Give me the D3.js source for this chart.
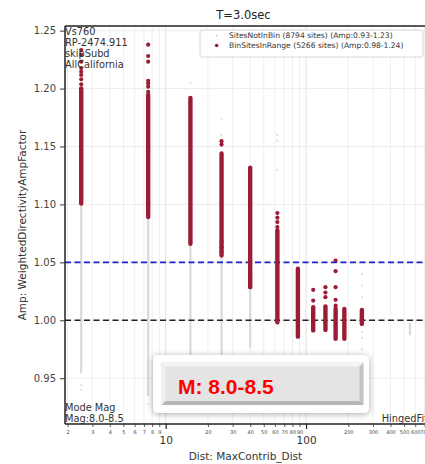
<!DOCTYPE html>
<html>
<head>
<meta charset="utf-8">
<script src="https://cdn.jsdelivr.net/npm/d3@7"></script>
<style>
  html, body { margin: 0; padding: 0; background: #fff; overflow: hidden; }
  svg { display: block; font-family: "DejaVu Sans", sans-serif; }
</style>
</head>
<body>
<svg id="chart" width="425" height="464"></svg>
<script>
// Distance bins (km) holding binned sites
const binDist = [2.5, 7.5, 15, 25, 40, 62.5, 87.5, 112.5, 137.5, 162.5, 187.5, 250];
// Dense extent of BinSitesInRange amplification in each bin
const binLow  = [1.1007, 1.0891, 1.0660, 1.0560, 1.0286, 0.9983, 0.9859, 0.9913, 0.9917, 0.9840, 0.9840, 0.9969];
const binHigh = [1.2002, 1.1944, 1.1920, 1.1440, 1.1318, 1.0776, 1.0445, 1.0113, 1.0120, 1.0098, 1.0098, 1.0090];

// Isolated BinSitesInRange points outside the dense stacks
const outDist = [2.5, 2.5, 2.5, 2.5, 2.5, 2.5, 2.5, 2.5,
                 7.5, 7.5, 7.5, 7.5, 7.5, 7.5, 7.5,
                 25, 25, 25, 25, 25,
                 40, 40,
                 62.5, 62.5, 62.5, 62.5,
                 112.5, 112.5,
                 137.5, 137.5, 137.5,
                 162.5, 162.5, 162.5, 162.5, 162.5];
const outAmp  = [1.2333, 1.2290, 1.2232, 1.2177, 1.2145, 1.2117, 1.2080, 1.2037,
                 1.2379, 1.2281, 1.2232, 1.2067, 1.2045, 1.2016, 1.1972,
                 1.1546, 1.1517, 1.0675, 1.0630, 1.0594,
                 1.0370, 1.0290,
                 1.0926, 1.0886, 1.0848, 1.0805,
                 1.0263, 1.0170,
                 1.0286, 1.0240, 1.0200,
                 1.0516, 1.0424, 1.0286, 1.0177, 1.0126];

// SitesNotInBin: faint stacks and scattered sites
const grayDist = [2.5, 7.5, 15, 25, 40, 550];
const grayLow  = [0.955, 0.935, 0.971, 0.966, 0.977, 0.988];
const grayHigh = [1.100, 1.090, 1.066, 1.056, 1.030, 0.997];
const grayPtDist = [2.5, 2.5, 7.5, 15, 25, 25, 62.5, 62.5, 62.5, 250, 250, 250, 250, 250, 250];
const grayPtAmp  = [0.944, 0.940, 0.928, 1.205, 1.174, 1.160, 1.160, 1.155, 1.130, 1.040, 1.030, 1.020, 0.990, 0.985, 0.975];

// Axis ticks
const yTicks = [0.95, 1.00, 1.05, 1.10, 1.15, 1.20, 1.25];
const xMajorTicks = [10, 100];
const xMinorTicks = [2, 3, 4, 5, 6, 7, 8, 9, 20, 30, 40, 50, 60, 70, 80, 90, 200, 300, 400, 500, 600, 700];

// Reference levels
const refLevels = [1.05, 1.00];
const refColors = ["#1f1fcc", "#222222"];

const infoLines = ["Vs760", "RP-2474.911", "skipSubd", "AllCalifornia"];
const modeLines = ["Mode Mag", "Mag:8.0-8.5"];
const legendLabels = ["SitesNotInBin (8794 sites) (Amp:0.93-1.23)", "BinSitesInRange (5266 sites) (Amp:0.98-1.24)"];

const RED = "#9b1d35";
const GRAY = "#d9d9d9";

const svg = d3.select("#chart");
const L = 65, R = 426, T = 26, B = 424;

const x = d3.scaleLog().domain([1.916, 716]).range([L, R]);
const y = d3.scaleLinear().domain([0.9105, 1.254]).range([B, T]);

// defs: clip + shadow
const defs = svg.append("defs");
defs.append("clipPath").attr("id", "plotclip")
  .append("rect").attr("x", L).attr("y", T).attr("width", R - L).attr("height", B - T);
const f = defs.append("filter").attr("id", "shadow").attr("x", "-20%").attr("y", "-30%").attr("width", "140%").attr("height", "160%");
f.append("feDropShadow").attr("dx", 0).attr("dy", 1).attr("stdDeviation", 3).attr("flood-color", "#000").attr("flood-opacity", 0.35);

// grid
const grid = svg.append("g").attr("clip-path", "url(#plotclip)");
grid.selectAll("line.vmin").data(xMinorTicks).join("line")
  .attr("x1", d => x(d)).attr("x2", d => x(d)).attr("y1", T).attr("y2", B)
  .attr("stroke", "#efefef").attr("stroke-width", 1);
grid.selectAll("line.vmaj").data(xMajorTicks).join("line")
  .attr("x1", d => x(d)).attr("x2", d => x(d)).attr("y1", T).attr("y2", B)
  .attr("stroke", "#e0e0e0").attr("stroke-width", 1);
grid.selectAll("line.h").data(yTicks).join("line")
  .attr("x1", L).attr("x2", R).attr("y1", d => y(d)).attr("y2", d => y(d))
  .attr("stroke", "#ececec").attr("stroke-width", 1);

const plot = svg.append("g").attr("clip-path", "url(#plotclip)");

// SitesNotInBin
plot.selectAll("line.gray").data(grayDist).join("line")
  .attr("x1", d => x(d)).attr("x2", d => x(d))
  .attr("y1", (d, i) => y(grayLow[i])).attr("y2", (d, i) => y(grayHigh[i]))
  .attr("stroke", GRAY).attr("stroke-width", 2.2).attr("stroke-linecap", "round");
plot.selectAll("circle.gray").data(grayPtDist).join("circle")
  .attr("cx", d => x(d)).attr("cy", (d, i) => y(grayPtAmp[i])).attr("r", 1)
  .attr("fill", GRAY);

// reference lines
plot.selectAll("line.ref").data(refLevels).join("line")
  .attr("x1", L).attr("x2", R).attr("y1", d => y(d)).attr("y2", d => y(d))
  .attr("stroke", (d, i) => refColors[i]).attr("stroke-width", 1.6)
  .attr("stroke-dasharray", "6,3.5");

// BinSitesInRange dense stacks
plot.selectAll("line.bin").data(binDist).join("line")
  .attr("x1", d => x(d)).attr("x2", d => x(d))
  .attr("y1", (d, i) => y(binLow[i])).attr("y2", (d, i) => y(binHigh[i]))
  .attr("stroke", RED).attr("stroke-width", 4.4).attr("stroke-linecap", "round");
plot.selectAll("circle.out").data(outDist).join("circle")
  .attr("cx", d => x(d)).attr("cy", (d, i) => y(outAmp[i])).attr("r", 2.1)
  .attr("fill", RED);

// axes spines
svg.append("line").attr("x1", L).attr("x2", L).attr("y1", T).attr("y2", B).attr("stroke", "#222").attr("stroke-width", 1.5);
svg.append("line").attr("x1", L).attr("x2", R).attr("y1", B).attr("y2", B).attr("stroke", "#222").attr("stroke-width", 1.5);
svg.append("line").attr("x1", L).attr("x2", R).attr("y1", T).attr("y2", T).attr("stroke", "#222").attr("stroke-width", 1.5);

// y axis
const yAxis = d3.axisLeft(y).tickValues(yTicks).tickFormat(d3.format(".2f")).tickSize(5).tickPadding(4);
const gy = svg.append("g").attr("transform", `translate(${L},0)`).call(yAxis);
gy.select(".domain").remove();
gy.selectAll(".tick line").attr("stroke", "#333").attr("stroke-width", 1);
gy.selectAll(".tick text").attr("font-family", "DejaVu Sans").attr("font-size", 10).attr("fill", "#444");

// x axis: minor
const xMinor = d3.axisBottom(x).tickValues(xMinorTicks).tickFormat(d3.format("d")).tickSize(3).tickPadding(3);
const gxm = svg.append("g").attr("transform", `translate(0,${B})`).call(xMinor);
gxm.select(".domain").remove();
gxm.selectAll(".tick line").attr("stroke", "#333").attr("stroke-width", 0.8);
gxm.selectAll(".tick text").attr("font-family", "DejaVu Sans").attr("font-size", 5).attr("fill", "#444");

// x axis: major
const xMajor = d3.axisBottom(x).tickValues(xMajorTicks).tickFormat(d3.format("d")).tickSize(5).tickPadding(8);
const gxM = svg.append("g").attr("transform", `translate(0,${B})`).call(xMajor);
gxM.select(".domain").remove();
gxM.selectAll(".tick line").attr("stroke", "#222").attr("stroke-width", 1.2);
gxM.selectAll(".tick text").attr("font-family", "DejaVu Sans").attr("font-size", 10.5).attr("fill", "#333");

// axis labels and title
svg.append("text").attr("x", (L + R) / 2).attr("y", 460).attr("text-anchor", "middle")
  .attr("font-size", 10.5).attr("fill", "#333").text("Dist: MaxContrib_Dist");
svg.append("text").attr("transform", `translate(26,${(T + B) / 2}) rotate(-90)`)
  .attr("text-anchor", "middle").attr("font-size", 10.5).attr("fill", "#333")
  .text("Amp: WeightedDirectivityAmpFactor");
svg.append("text").attr("x", 243.5).attr("y", 19).attr("text-anchor", "middle")
  .attr("font-size", 11.5).attr("fill", "#222").text("T=3.0sec");

// corner annotations
svg.append("g").selectAll("text").data(infoLines).join("text")
  .attr("x", L).attr("y", (d, i) => 34.5 + i * 11).attr("font-size", 9.8).attr("fill", "#333").text(d => d);
svg.append("g").selectAll("text").data(modeLines).join("text")
  .attr("x", L).attr("y", (d, i) => 410.5 + i * 11).attr("font-size", 9.8).attr("fill", "#333").text(d => d);
svg.append("text").attr("x", R + 2).attr("y", 421.5).attr("text-anchor", "end")
  .attr("font-size", 9.8).attr("fill", "#333").text("HingedFit");

// legend
const lg = svg.append("g");
lg.append("rect").attr("x", 200).attr("y", 30).attr("width", 223).attr("height", 27).attr("rx", 2)
  .attr("fill", "#fff").attr("fill-opacity", 0.85).attr("stroke", "#d6d6d6");
lg.append("circle").attr("cx", 216.7).attr("cy", 35.5).attr("r", 1).attr("fill", "#cfcfcf");
lg.append("circle").attr("cx", 216.7).attr("cy", 45.5).attr("r", 1.8).attr("fill", RED);
lg.selectAll("text").data(legendLabels).join("text")
  .attr("x", 229).attr("y", (d, i) => 38.2 + i * 10).attr("font-size", 7.6).attr("fill", "#333").text(d => d);

// magnitude badge
const bx = 153, by = 355, bw = 216, bh = 58;
const badge = svg.append("g");
badge.append("rect").attr("x", bx).attr("y", by).attr("width", bw).attr("height", bh).attr("rx", 5)
  .attr("fill", "#fff").attr("filter", "url(#shadow)");
const ix = 161.5, iy = 362.5, iw = 202, ih = 42.5, bev = 4;
badge.append("rect").attr("x", ix).attr("y", iy).attr("width", iw).attr("height", ih).attr("fill", "#e4e4e4");
badge.append("polygon").attr("points", `${ix},${iy} ${ix + iw},${iy} ${ix + iw - bev},${iy + bev} ${ix + bev},${iy + bev}`).attr("fill", "#f4f4f4");
badge.append("polygon").attr("points", `${ix},${iy} ${ix + bev},${iy + bev} ${ix + bev},${iy + ih - bev} ${ix},${iy + ih}`).attr("fill", "#efefef");
badge.append("polygon").attr("points", `${ix + iw},${iy} ${ix + iw},${iy + ih} ${ix + iw - bev},${iy + ih - bev} ${ix + iw - bev},${iy + bev}`).attr("fill", "#c4c4c4");
badge.append("polygon").attr("points", `${ix},${iy + ih} ${ix + iw},${iy + ih} ${ix + iw - bev},${iy + ih - bev} ${ix + bev},${iy + ih - bev}`).attr("fill", "#b5b5b5");
badge.append("text").attr("x", 178).attr("y", 394).attr("font-family", "Liberation Sans, Arial, sans-serif")
  .attr("font-weight", "bold").attr("font-size", 21).attr("fill", "#ff0000").text("M: 8.0-8.5");
</script>
</body>
</html>
